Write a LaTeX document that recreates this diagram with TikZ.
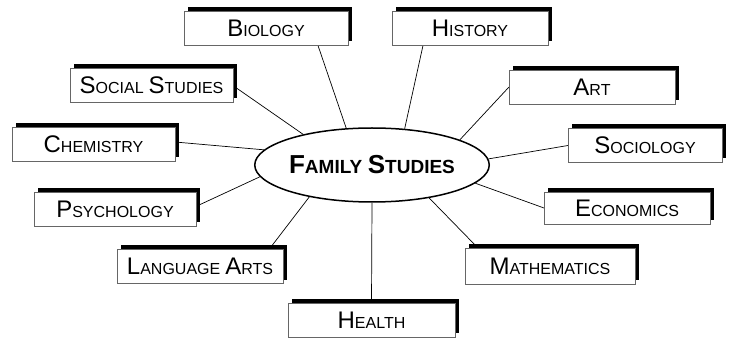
\documentclass[tikz,border=0pt]{standalone}
\usepackage{fontspec}
\setmainfont{Liberation Sans}
\usetikzlibrary{%
    backgrounds,
    calc,
    shadows,
    shapes.geometric
}

% fake small caps: large first letter, smaller rest
\newcommand{\topiccaps}[2]{%
    {\fontsize{24}{26}\selectfont #1}{\fontsize{16}{18}\selectfont #2}}
\newcommand{\hubcaps}[2]{%
    {\fontsize{26}{28}\selectfont\bfseries #1}{\fontsize{19}{21}\selectfont\bfseries #2}}

\tikzset{
    topic/.style={draw=black!60, line width=.8pt, fill=white,
                  minimum width=164pt, minimum height=34pt,
                  inner sep=0pt, outer sep=0pt,
                  font=\fontsize{18}{20}\selectfont,
                  general shadow={fill=black, shadow xshift=4pt, shadow yshift=4pt}},
    hub/.style={draw, ellipse, line width=1.5pt, fill=white,
                minimum width=231pt, minimum height=74pt, inner sep=0pt,
                font=\fontsize{20}{22}\selectfont\bfseries},
    spoke/.style={draw, line width=.7pt}
}

\begin{document}
\begin{tikzpicture}[x=1pt, y=-1pt]
    \useasboundingbox (0,0) rectangle (731,339);

    \node[hub] (fam) at (372,165) {\hubcaps{F}{AMILY} \hubcaps{S}{TUDIES}};

    \node[topic] (bio) at (266,28.5)  {\topiccaps{B}{IOLOGY}};
    \node[topic, minimum width=156pt] (his) at (470,28.5) {\topiccaps{H}{ISTORY}};
    \node[topic, minimum width=166pt] (art) at (592,87) {\topiccaps{A}{RT}};
    \node[topic, minimum width=154pt] (soc) at (645,145.5) {\topiccaps{S}{OCIOLOGY}};
    \node[topic, minimum width=163pt] (sst) at (151.5,85) {\topiccaps{S}{OCIAL} \topiccaps{S}{TUDIES}};
    \node[topic, minimum width=163pt] (che) at (93.5,144) {\topiccaps{C}{HEMISTRY}};
    \node[topic, minimum width=162pt] (psy) at (115,209.5) {\topiccaps{P}{SYCHOLOGY}};
    \node[topic, minimum width=166pt, minimum height=32pt] (eco) at (627,208) {\topiccaps{E}{CONOMICS}};
    \node[topic, minimum width=166pt] (lan) at (200,266.5) {\topiccaps{L}{ANGUAGE} \topiccaps{A}{RTS}};
    \node[topic, minimum width=170pt, minimum height=36pt] (mat) at (550,266) {\topiccaps{M}{ATHEMATICS}};
    \node[topic, minimum width=167pt] (hea) at (371.5,320) {\topiccaps{H}{EALTH}};

    \begin{pgfonlayer}{background}
        \foreach \Box/\Anchor/\Dx/\Dy/\Angle in {%
            bio/south/52/0/125.5,
            his/south/-47/0/48.5,
            sst/east/2/-2/156.6,
            che/east/0/2/172.4,
            art/west/0/0/16.2,
            soc/west/0/0/3.5,
            psy/east/2/4/186.7,
            lan/north/69/0/207.3,
            hea/north/0/0/270,
            mat/north/-72/0/330.4,
            eco/west/0/0/350.4%
            }
            \draw[spoke] ([xshift=\Dx pt, yshift=\Dy pt]\Box.\Anchor) -- (fam.\Angle);
    \end{pgfonlayer}
\end{tikzpicture}
\end{document}
